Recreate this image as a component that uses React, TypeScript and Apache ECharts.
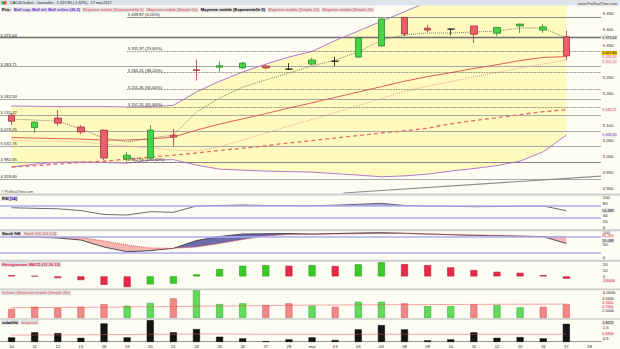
import React, { useEffect, useRef } from "react";
import * as echarts from "echarts";

// ---------- DATA ----------
const dates = ["10","11","12","13","18","19","20","21","24","25","26","27","28","mai","03","04","05","08","09","10","11","12","15","16","17","18"];

const opens  = [5131,5092,5122,5094,5084,4993,4996,5068,5274,5282,5280,5286,5276,5292,5301,5314,5349,5439,5405,5402,5412,5389,5412,5399,5378];
const closes = [5112,5109,5106,5078,4996,5005,5084,5062,5272,5287,5295,5280,5276,5305,5301,5374,5434,5387,5399,5402,5386,5407,5418,5409,5317.8];
const lows   = [5100,5075,5098,5072,4990,4985,4993,5034,5240,5268,5277,5275,5273,5288,5285,5312,5346,5380,5393,5383,5359,5380,5390,5390,5305];
const highs  = [5138,5112,5147,5100,5086,5015,5100,5088,5306,5300,5299,5290,5295,5312,5315,5378,5436,5440,5415,5403,5413,5409,5419,5418,5397];
const prevClose = 5135.4;

const upperBB = [5160,5159,5158,5158,5158,5157,5158,5162,5204,5238,5267,5292,5314,5332,5366,5396,5427,5457,5488,5505,5518,5530,5538,5545,5550];
const lowerBB = [4967.6,4977,4983,4984,4981.7,4980,4989.6,4991,4974,4961,4958,4955,4953.4,4951.8,4947,4942.4,4937,4939.9,4945.5,4955,4963,4972.3,4986.5,5015.8,5068.4];
const sma50 = [4967.6,4972,4977.5,4982,4986,4993,4999,5005,5012,5020,5027,5035,5043.5,5051,5059,5067,5075,5082,5090,5104,5114,5123,5133,5142,5148.11];
const sma20 = [5060.5,5059,5057.4,5055.8,5052.7,5052.7,5055.8,5062.1,5084,5103,5119.5,5136,5153.5,5170,5187,5204,5221,5238,5252.5,5265,5278,5290,5303,5313,5315.2];
const ema9 = [5052.7,5049.5,5049.5,5046.4,5040.1,5033.8,5027.5,5021.2,5018,5031.6,5052.7,5074.7,5096.8,5117.3,5139.3,5161.4,5183.4,5205.5,5222.8,5237,5251.2,5265.4,5279.5,5292.1,5304.7];
const ema5 = [5118.8,5115.7,5112.5,5087.3,5059,5046.4,5059,5068.4,5140.9,5185,5219.7,5241.7,5263.8,5285.8,5304.7,5330,5368,5383.5,5389.8,5389.8,5393,5396.1,5405.6,5405.6,5374.1];

const hLevels = [5375.64,5283.71,5182.53,5131.32,5079.25,5032.76,4982.65,4928.6];
const fibLevels = [5439.87,5331.97,5265.21,5211.26,5157.31,4982.65];
const fibPcts = ["0,00%","23,60%","38,20%","50,00%","61,80%","100,00%"];
const fibStartIndex = 5;
const trendX = [14.36, 25.5];
const trendY = [4886, 4939];

const rsi = [64.3,62.3,60.7,54.7,41.7,40,51,49,70,71.7,73.3,71.7,71,70.7,72.7,75.7,79,71.7,70,69,67.7,68.3,69.3,70,54.488];
const rsiLevels = [70, 30];
const stochK = [81,80,76.5,68.6,41,22.7,26.7,36,66.7,82.4,92,93.3,94,92,94,96,97.3,95.3,92,89.4,87,85,83.5,81.6,55.088];
const stochD = [81.6,81.2,80.4,78.4,64.7,49,37.3,36,41.2,55,70.6,84.3,90.2,91.4,92.2,93,94,94,92,90.2,88.2,86.3,84.3,82.4,81.781];
const stochLevels = [80, 20];
const macdHist = [2,0.8,-2.8,-6.2,-14,-17.8,-13.3,-12,3.3,12.2,17.7,18.8,17.7,18.8,17.2,20,23.5,20.5,18.8,15,10.5,7.7,6,2.2,-3.8606];
const volumes = [2079,2610,2380,2610,3234,2841,3465,4550,6468,3234,3396,3003,3396,2841,2610,3765,3765,3396,2772,2772,3165,3003,2472,2610,3165];
const volumeMA = [2380,2420,2450,2480,2510,2550,2600,2650,2730,2780,2820,2870,2930,3000,3020,3050,3080,3100,3120,3140,3160,3180,3200,3210,3230];
const volumeTicks = [2000, 4000];
const volatility = [0.59,1.05,0.98,0.55,1.86,0.59,2.16,1.05,1.35,0.65,0.5,0.25,0.41,0.59,0.35,1.32,1.71,1.32,0.32,0.41,1.05,0.55,0.62,0.5,1.8225];
const volatilityMA = [0.8,0.81,0.82,0.82,0.85,0.85,0.88,0.88,0.9,0.9,0.89,0.88,0.87,0.87,0.86,0.87,0.88,0.88,0.87,0.87,0.87,0.88,0.88,0.88,0.8834];

// ---------- HELPERS ----------
const fmt = (v: number, d: number) => {
  const neg = v < 0;
  const s = Math.abs(v).toFixed(d);
  const parts = s.split(".");
  const ip = parts[0].replace(/\B(?=(\d{3})+(?!\d))/g, " ");
  return (neg ? "-" : "") + ip + (parts[1] ? "," + parts[1] : "");
};
const FONT = "Liberation Sans, Arial, sans-serif";
const FS = 4.2;
const BFS = 3.7;
const last = <T,>(a: T[]) => a[a.length - 1];

const boxLine = (value: number, text: string, color: string, bg: string, offsetY = 0, fs = BFS) => ({
  yAxis: value,
  lineStyle: { color: "rgba(0,0,0,0)", width: 0 },
  label: {
    show: true, position: "end", formatter: text, color, backgroundColor: bg,
    fontSize: fs, fontFamily: FONT, padding: [0.3, 0.5, 0, 0.5], distance: 0.8, offset: [0, offsetY],
  },
});

export default function App() {
  const ref = useRef<HTMLDivElement>(null);
  useEffect(() => {
    const chart = echarts.init(ref.current!, null, { renderer: "svg" });
    const idx = closes.map((_, i) => i);

    const candleData = idx.map((i) => [opens[i], closes[i], lows[i], highs[i]]);
    const bandDiff = upperBB.map((u, i) => u - lowerBB[i]);

    const stBase = stochK.map((k, i) => Math.min(k, stochD[i]));
    const stRed = stochK.map((k, i) => (k < stochD[i] ? stochD[i] - k : 0));
    const stBlue = stochK.map((k, i) => (k > stochD[i] ? k - stochD[i] : 0));
    const rsiBase = rsi.map(() => rsiLevels[0]);
    const rsiExcess = rsi.map((v) => Math.max(v - rsiLevels[0], 0));

    const macdData = macdHist.map((v, i) => {
      const up = i > 0 && v > macdHist[i - 1];
      return { value: v, itemStyle: { color: up ? "#3ACB27" : "#E8284A", borderColor: up ? "#2A9A1A" : "#B8203C", borderWidth: 0.6 } };
    });
    const volData = volumes.map((v, i) => {
      const pc = i === 0 ? prevClose : closes[i - 1];
      const up = closes[i] > pc;
      return { value: v, itemStyle: { color: up ? "#62DA5A" : "#F08888", borderColor: up ? "#3AA83A" : "#D46060", borderWidth: 0.6 } };
    });

    const grids = [
      { top: 5, height: 188 },
      { top: 197, height: 30 },
      { top: 232, height: 25.5 },
      { top: 262, height: 26.4 },
      { top: 290, height: 28 },
      { top: 319.5, height: 22.2 },
    ].map((g) => ({ ...g, left: 0, right: 19, outerBoundsMode: "none", containLabel: false }));

    const xAxes: any[] = grids.map((_, gi) => ({
      type: "category", gridIndex: gi, data: dates, boundaryGap: true,
      axisLine: { show: gi === 5, lineStyle: { color: "#9A9A9A", width: 1 } },
      axisTick: { show: false },
      axisLabel: { show: gi === 5, fontSize: FS, fontFamily: FONT, color: "#222", margin: 2.5, interval: 0 },
      splitLine: { show: false },
    }));
    xAxes.push({ type: "value", gridIndex: 0, min: -0.5, max: 25.5, show: false });

    const yBase = {
      position: "right", axisLine: { show: false }, axisTick: { show: false }, splitLine: { show: false },
    };
    const lbl = (formatter: any) => ({ fontSize: FS, fontFamily: FONT, color: "#222", margin: 1.8, formatter, showMinLabel: false, showMaxLabel: false });
    const yAxes: any[] = [
      { ...yBase, gridIndex: 0, min: 4886, max: 5478, splitNumber: 12,
        axisLabel: lbl((v: number) => (v === 5300 || v === 5150 ? "" : fmt(v, 0))) },
      { ...yBase, gridIndex: 1, min: 0, max: 100, interval: 20,
        axisLabel: { ...lbl((v: number) => (v === 60 ? "" : String(v))), showMinLabel: true, showMaxLabel: true } },
      { ...yBase, gridIndex: 2, min: 0, max: 100, interval: 50,
        axisLabel: { ...lbl((v: number) => String(v)), showMinLabel: true, showMaxLabel: true } },
      { ...yBase, gridIndex: 3, min: -20, max: 24, interval: 10, axisLabel: lbl((v: number) => (v === -10 ? "" : String(v))) },
      { ...yBase, gridIndex: 4, min: 0, max: 6500, interval: 2000,
        axisLabel: lbl((v: number) => (volumeTicks.indexOf(v) >= 0 ? "" : fmt(v, 0) + "k")) },
      { ...yBase, gridIndex: 5, min: 0.2, max: 2.22, splitNumber: 4,
        axisLabel: lbl((v: number) => (Math.abs(v - 0.5) < 1e-6 ? "0,5" : Math.abs(v - 1.5) < 1e-6 ? "1,5" : "")) },
    ];

    const line = (extra: any) => ({ type: "line", symbol: "none", silent: true, xAxisIndex: 0, yAxisIndex: 0, ...extra });

    const hLineData = hLevels.map((v, k) => ({
      yAxis: v,
      lineStyle: { color: k === 0 ? "#6E6E6E" : "#A8A8A8", width: k === 0 ? 1.3 : 1.2, type: "solid" },
      label: { show: true, position: "insideStartTop", formatter: fmt(v, 2), color: "#222", fontSize: FS, fontFamily: FONT, distance: 0.5 },
    }));

    const fibData = fibLevels.map((v, k) => [
      {
        coord: [fibStartIndex, v],
        lineStyle: { color: k === 0 ? "#8A8A8A" : "#555", width: k === 0 ? 1.2 : 0.8, type: k === 0 ? "solid" : "dotted" },
        label: { show: true, position: "insideStartTop", formatter: fmt(v, 2) + " (" + fibPcts[k] + ")", color: "#222", fontSize: FS, fontFamily: FONT, distance: 0.5 },
      },
      { coord: [25.5, v] },
    ]);

    const volTickLines = volumeTicks.map((v) => boxLine(v, fmt(v, 0) + "k", "#222", "rgba(0,0,0,0)", v === 4000 ? -2.2 : 1.6, 3.9));

    const series: any[] = [
      line({ data: lowerBB, stack: "bb", lineStyle: { opacity: 0 }, z: 1 }),
      line({ data: bandDiff, stack: "bb", lineStyle: { opacity: 0 }, areaStyle: { color: "#FFFBBE", opacity: 1 }, z: 1 }),
      line({ data: upperBB, lineStyle: { color: "#B478CC", width: 1 }, z: 3 }),
      line({ data: lowerBB, lineStyle: { color: "#B478CC", width: 1 }, z: 3,
        markLine: { symbol: ["none", "none"], silent: true, data: [boxLine(last(lowerBB), fmt(last(lowerBB), 2), "#8A3AB0", "#F2EEF6")] } }),
      line({ data: sma50, lineStyle: { color: "#E86A6A", width: 1.3, type: [4, 3] }, z: 3,
        markLine: { symbol: ["none", "none"], silent: true, data: [boxLine(last(sma50), fmt(last(sma50), 2), "#E05050", "#F6EEEE")] } }),
      line({ data: ema9, lineStyle: { color: "#F29A9A", width: 1, type: "dotted" }, z: 3,
        markLine: { symbol: ["none", "none"], silent: true, data: [boxLine(last(ema9), fmt(last(ema9), 2), "#E06A6A", "#F6EEEE", 1.8)] } }),
      line({ data: sma20, lineStyle: { color: "#E25C5C", width: 1 }, z: 3,
        markLine: { symbol: ["none", "none"], silent: true, data: [boxLine(last(sma20), fmt(last(sma20), 2), "#E05050", "#F6EEEE", 0.6)] } }),
      line({ xAxisIndex: 6, data: idx.map((i) => [i, ema5[i]]), lineStyle: { color: "#7E7E6A", width: 1, type: "dotted" }, z: 4,
        markLine: { symbol: ["none", "none"], silent: true, data: [
          ...fibData,
          [{ coord: [trendX[0], trendY[0]], lineStyle: { color: "#8C8C8C", width: 1.2, type: "solid" }, label: { show: false } }, { coord: [trendX[1], trendY[1]] }],
        ] } }),
      {
        type: "candlestick", xAxisIndex: 0, yAxisIndex: 0, data: candleData, barWidth: 7, silent: true, z: 5,
        itemStyle: { color: "#46D446", color0: "#E8606C", borderColor: "#2C8A2C", borderColor0: "#A8303C", borderColorDoji: "#111", borderWidth: 0.8 },
        markLine: { symbol: ["none", "none"], silent: true, z: 2, data: [
          ...hLineData,
          boxLine(hLevels[0], fmt(hLevels[0], 2), "#111", "#E2E2E2"),
          boxLine(last(closes), fmt(last(closes), 2), "#111", "#F2C200", -2.8),
        ] },
      },
      // RSI
      line({ xAxisIndex: 1, yAxisIndex: 1, data: rsiBase, stack: "rsi", lineStyle: { opacity: 0 },
        markLine: { symbol: ["none", "none"], silent: true, label: { show: false },
          lineStyle: { color: "#ABABF0", width: 1.5, type: "solid" }, data: rsiLevels.map((v) => ({ yAxis: v })) } }),
      line({ xAxisIndex: 1, yAxisIndex: 1, data: rsiExcess, stack: "rsi", lineStyle: { opacity: 0 }, areaStyle: { color: "#9C9CD6", opacity: 0.9 } }),
      line({ xAxisIndex: 1, yAxisIndex: 1, data: rsi, lineStyle: { color: "#5A5A64", width: 0.9 },
        markLine: { symbol: ["none", "none"], silent: true, data: [boxLine(last(rsi), fmt(last(rsi), 3), "#111", "#E2E2E2")] } }),
      // Stochastic
      line({ xAxisIndex: 2, yAxisIndex: 2, data: stBase, stack: "st", lineStyle: { opacity: 0 },
        markLine: { symbol: ["none", "none"], silent: true, label: { show: false },
          lineStyle: { color: "#ABABF0", width: 1.5, type: "solid" }, data: stochLevels.map((v) => ({ yAxis: v })) } }),
      line({ xAxisIndex: 2, yAxisIndex: 2, data: stRed, stack: "st", lineStyle: { opacity: 0 }, areaStyle: { color: "#F4B6B0", opacity: 1 } }),
      line({ xAxisIndex: 2, yAxisIndex: 2, data: stBlue, stack: "st", lineStyle: { opacity: 0 }, areaStyle: { color: "#6C6CAC", opacity: 1 } }),
      line({ xAxisIndex: 2, yAxisIndex: 2, data: stochK, lineStyle: { color: "#3C3C48", width: 0.9 },
        markLine: { symbol: ["none", "none"], silent: true, data: [boxLine(last(stochK), fmt(last(stochK), 3), "#111", "#E2E2E2", -2.6)] } }),
      line({ xAxisIndex: 2, yAxisIndex: 2, data: stochD, lineStyle: { color: "#E65050", width: 1, type: "dotted" },
        markLine: { symbol: ["none", "none"], silent: true, data: [boxLine(last(stochD), fmt(last(stochD), 3), "#E03030", "#F6EEEE", -0.2)] } }),
      // MACD histogram
      { type: "bar", xAxisIndex: 3, yAxisIndex: 3, data: macdData, barWidth: 7, silent: true,
        markLine: { symbol: ["none", "none"], silent: true, data: [boxLine(last(macdHist), fmt(last(macdHist), 4), "#E02040", "#F6EEEE", 2.1)] } },
      // Volume
      { type: "bar", xAxisIndex: 4, yAxisIndex: 4, data: volData, barWidth: 7, silent: true,
        markLine: { symbol: ["none", "none"], silent: true, data: [
          ...volTickLines,
          boxLine(last(volumes), fmt(last(volumes), 0) + "k", "#E03030", "#F6EEEE", -1.4),
        ] } },
      line({ xAxisIndex: 4, yAxisIndex: 4, data: volumeMA, lineStyle: { color: "#E85050", width: 1, type: "dotted" },
        markLine: { symbol: ["none", "none"], silent: true, data: [boxLine(last(volumeMA), fmt(last(volumeMA), 0) + "k", "#E03030", "#F6EEEE", 3.0)] } }),
      // Volatility
      { type: "bar", xAxisIndex: 5, yAxisIndex: 5, data: volatility, barWidth: 7, silent: true,
        itemStyle: { color: "#141414", borderColor: "#000", borderWidth: 0.5 },
        markLine: { symbol: ["none", "none"], silent: true, data: [boxLine(last(volatility), fmt(last(volatility), 4), "#111", "#E2E2E2", -1)] } },
      line({ xAxisIndex: 5, yAxisIndex: 5, data: volatilityMA, lineStyle: { color: "#E85050", width: 1, type: "dotted" },
        markLine: { symbol: ["none", "none"], silent: true, data: [boxLine(last(volatilityMA), fmt(last(volatilityMA), 4), "#E03030", "#F6EEEE")] } }),
    ];

    const sep = (y: number, h = 2) => ({ type: "rect", z: 100, shape: { x: 0, y, width: 620, height: h }, style: { fill: "#CDCDCD" } });
    const tag = (x: number, y: number, text: string, rich: any) => ({
      type: "text", x, y, z: 110, style: { text, fontSize: 4, fontFamily: FONT, rich },
    });
    const r = (fill: string, bold = false) => ({ fill, fontSize: 4, fontFamily: FONT, fontWeight: bold ? "bold" : "normal", backgroundColor: "#E0E0E0", padding: [0.6, 1, 0.2, 1] });

    const graphic: any[] = [
      { type: "rect", z: 100, shape: { x: 0, y: 0, width: 620, height: 5.5 }, style: { fill: "#DCE3EA" } },
      { type: "rect", z: 101, shape: { x: 1.5, y: 1.2, width: 2.5, height: 3.2 }, style: { fill: "#3DB83D" } },
      { type: "rect", z: 101, shape: { x: 4, y: 1.2, width: 2.5, height: 3.2 }, style: { fill: "#E04848" } },
      { type: "text", x: 10, y: 0.9, z: 101, style: { text: "CAC40 Indice - Journalier - " + fmt(last(closes), 2) + " (-1,62%) - 17 mai 2017", fontSize: 3.8, fontFamily: FONT, fill: "#222" } },
      { type: "text", x: 577, y: 1.4, z: 101, style: { text: "www.ProRealTime.com", fontSize: 3.8, fontFamily: FONT, fill: "#333", backgroundColor: "#E8E8E8", padding: [0.5, 1] } },
      tag(1, 7.4, "{k|Prix:} {p|Boll sup; Boll inf; Boll milieu (20,2)} {r|Moyenne mobile (Exponentielle 9)} {r|Moyenne mobile (Simple 50)} {b|Moyenne mobile (Exponentielle 5)} {r|Moyenne mobile (Simple 20)} {r|Moyenne mobile (Simple 20)}",
        { k: r("#000", true), p: r("#6A2FD0", true), r: r("#E84848"), b: r("#000", true) }),
      { type: "text", x: 1, y: 190, z: 110, style: { text: "\u00a9 ProRealTime.com", fontSize: 3.6, fontFamily: FONT, fill: "#444" } },
      sep(193.5), sep(229.2), sep(259.8), sep(288.4, 1.8), sep(318.2, 1.6),
      tag(1, 196, "{k|RSI [14]}", { k: r("#000", true) }),
      tag(1, 231.4, "{k|Stoch %K} {r|Stoch %D (14,3,3)}", { k: r("#000", true), r: r("#E84848") }),
      tag(1, 262, "{r|Histogramme MACD (12 26 12)}", { r: r("#D82040", true) }),
      tag(1, 290.4, "{r|Volume (Moyenne mobile (Simple 20))}", { r: r("#E05858") }),
      tag(1, 320, "{k|volatilit\u00e9} {r|moyenne}", { k: r("#000", true), r: r("#E84848") }),
    ];

    chart.setOption({
      animation: false,
      backgroundColor: "#FDFDF3",
      textStyle: { fontFamily: FONT },
      grid: grids,
      xAxis: xAxes,
      yAxis: yAxes,
      series,
      graphic,
    });
    return () => chart.dispose();
  }, []);
  return <div ref={ref} style={{ width: 620, height: 349, position: "absolute", left: 0, top: 0 }} />;
}
